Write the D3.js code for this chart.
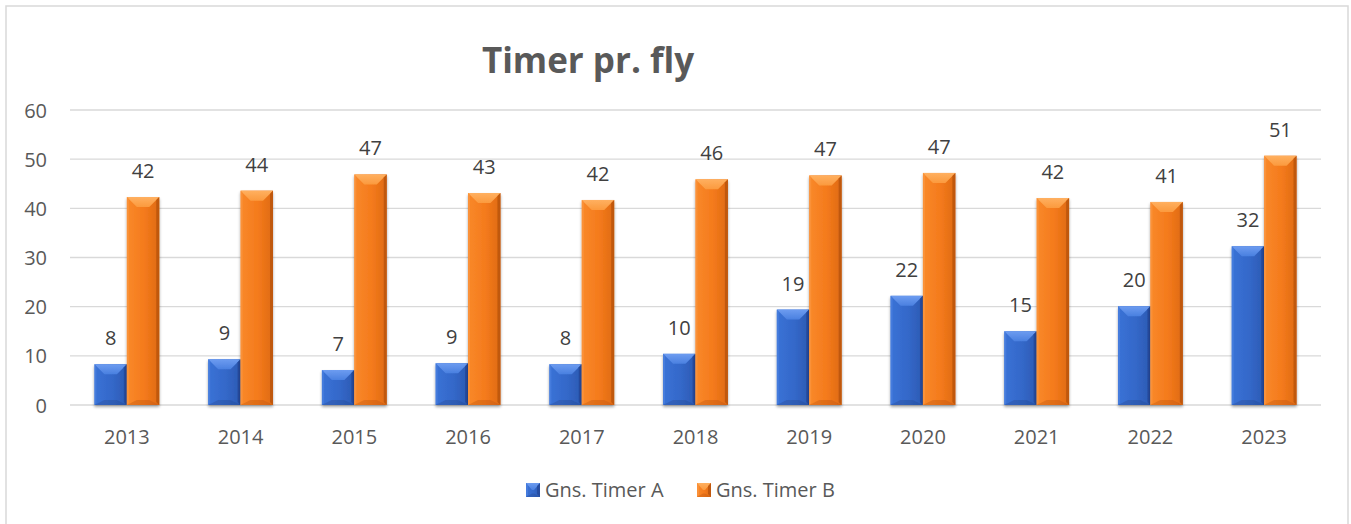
<!DOCTYPE html>
<html>
<head>
<meta charset="utf-8">
<script src="https://cdn.jsdelivr.net/npm/d3@7"></script>
<style>
  body { margin: 0; background: #fff; }
  svg { display: block; }
  text { font-family: "Open Sans", "Noto Sans", sans-serif; fill: #595959; }
</style>
</head>
<body>
<div id="chart"></div>
<script>
// chart data
var years = ['2013', '2014', '2015', '2016', '2017', '2018', '2019', '2020', '2021', '2022', '2023'];
var timerA = [8.3, 9.3, 7.1, 8.5, 8.3, 10.4, 19.4, 22.2, 15.0, 20.1, 32.3];
var timerB = [42.3, 43.6, 46.9, 43.1, 41.7, 45.9, 46.7, 47.2, 42.1, 41.3, 50.7];
var seriesNames = ['Gns. Timer A', 'Gns. Timer B'];
var yTicks = [0, 10, 20, 30, 40, 50, 60];

var width = 1351, height = 524;
var plotLeft = 70, plotRight = 1321, plotTop = 110, plotBottom = 405;

var svg = d3.select('#chart').append('svg')
    .attr('width', width)
    .attr('height', height);

var defs = svg.append('defs');

// gradients for bevelled bars
var palettes = [
    {id: 'a', body: ['#3a72d6', '#3468c9', '#2c5ab3'], top: ['#6d9cf0', '#4a80e0'], bottom: '#24498f', edgeR: '#24489a', edgeL: '#4a80e0'},
    {id: 'b', body: ['#f9892a', '#f47a1c', '#de6a12'], top: ['#ffb060', '#fb9a3e'], bottom: '#b9540e', edgeR: '#b8540e', edgeL: '#fb9640'}
];
palettes.forEach(function(p){
    var g = defs.append('linearGradient').attr('id', 'body-' + p.id)
        .attr('x1', 0).attr('x2', 1).attr('y1', 0).attr('y2', 0);
    g.append('stop').attr('offset', '0%').attr('stop-color', p.body[0]);
    g.append('stop').attr('offset', '55%').attr('stop-color', p.body[1]);
    g.append('stop').attr('offset', '100%').attr('stop-color', p.body[2]);
    var t = defs.append('linearGradient').attr('id', 'top-' + p.id)
        .attr('x1', 0).attr('x2', 0).attr('y1', 0).attr('y2', 1);
    t.append('stop').attr('offset', '0%').attr('stop-color', p.top[0]);
    t.append('stop').attr('offset', '100%').attr('stop-color', p.top[1]);
});

var shadow = defs.append('filter').attr('id', 'shadow')
    .attr('x', '-20%').attr('y', '-20%').attr('width', '140%').attr('height', '140%');
shadow.append('feGaussianBlur').attr('in', 'SourceAlpha').attr('stdDeviation', 1.5);
shadow.append('feOffset').attr('dx', 0).attr('dy', 1.5).attr('result', 'blur');
shadow.append('feComponentTransfer').append('feFuncA').attr('type', 'linear').attr('slope', 0.35);
var merge = shadow.append('feMerge');
merge.append('feMergeNode');
merge.append('feMergeNode').attr('in', 'SourceGraphic');

// outer border
svg.append('rect')
    .attr('x', 6).attr('y', 6)
    .attr('width', 1342).attr('height', 520)
    .attr('fill', 'none')
    .attr('stroke', '#d9d9d9')
    .attr('stroke-width', 1.5);

// title
svg.append('text')
    .attr('x', 588).attr('y', 73)
    .attr('text-anchor', 'middle')
    .style('font-size', '35px')
    .style('font-weight', 'bold')
    .text('Timer pr. fly');

var x0 = d3.scaleBand().domain(years).range([plotLeft, plotRight]).paddingInner(0.43).paddingOuter(0.215);
var x1 = d3.scaleBand().domain([0, 1]).range([0, x0.bandwidth()]);
var y = d3.scaleLinear().domain([0, 60]).range([plotBottom, plotTop]);

// gridlines
svg.append('g').selectAll('line')
    .data(yTicks)
    .enter().append('line')
    .attr('x1', plotLeft).attr('x2', plotRight)
    .attr('y1', function(d){ return y(d); })
    .attr('y2', function(d){ return y(d); })
    .attr('stroke', '#d9d9d9')
    .attr('stroke-width', 1.3);

// y axis labels
var yAxis = d3.axisLeft(y).tickValues(yTicks).tickSize(0).tickPadding(0);
var yg = svg.append('g').attr('transform', 'translate(47,0)').call(yAxis);
yg.select('.domain').remove();
yg.selectAll('text').style('font-size', '20px').attr('fill', '#595959').attr('font-family', null).attr('dy', '0.35em');

// x axis labels
var xAxis = d3.axisBottom(x0).tickSize(0).tickPadding(0);
var xg = svg.append('g').attr('transform', 'translate(0,' + (plotBottom + 32) + ')').call(xAxis);
xg.select('.domain').remove();
xg.selectAll('text').style('font-size', '20px').attr('fill', '#595959').attr('font-family', null).attr('dy', '0.35em');

// bars
function bevelBar(g, x, yTop, w, h, p) {
    var bw = Math.min(10, w / 2 - 1), bh = Math.min(10, h / 2);
    var yb = yTop + h;
    g.append('rect').attr('x', x).attr('y', yTop).attr('width', w).attr('height', h)
        .attr('fill', 'url(#body-' + p.id + ')');
    g.append('polygon')
        .attr('points', [[x, yTop], [x + w, yTop], [x + w - bw, yTop + bh], [x + bw, yTop + bh]].join(' '))
        .attr('fill', 'url(#top-' + p.id + ')');
    g.append('polygon')
        .attr('points', [[x + w, yTop], [x + w, yb], [x + w - 3, yb - 3], [x + w - 3, yTop + 3]].join(' '))
        .attr('fill', p.edgeR).attr('opacity', 0.8);
    g.append('polygon')
        .attr('points', [[x, yTop], [x + 2, yTop + 2], [x + 2, yb - 2], [x, yb]].join(' '))
        .attr('fill', p.edgeL).attr('opacity', 0.7);
    g.append('polygon')
        .attr('points', [[x, yb], [x + w, yb], [x + w - bw, yb - bh / 2], [x + bw, yb - bh / 2]].join(' '))
        .attr('fill', p.bottom).attr('opacity', 0.35);
}

var series = [timerA, timerB];
series.forEach(function(vals, si){
    var p = palettes[si];
    var sg = svg.append('g').attr('class', 'series-' + p.id);
    years.forEach(function(yr, i){
        var bx = x0(yr) + x1(si);
        var g = sg.append('g').attr('filter', 'url(#shadow)');
        bevelBar(g, bx, y(vals[i]), x1.bandwidth(), plotBottom - y(vals[i]), p);
    });
    sg.selectAll('text.lbl')
        .data(vals)
        .enter().append('text')
        .attr('class', 'lbl')
        .attr('x', function(d, i){ return x0(years[i]) + x1(si) + x1.bandwidth() / 2; })
        .attr('y', function(d){ return y(d) - 19; })
        .attr('text-anchor', 'middle')
        .style('font-size', '20px')
        .style('fill', '#404040')
        .text(function(d){ return Math.round(d); });
});

// legend
var legend = svg.append('g').attr('transform', 'translate(526,483)');
var legendX = [0, 171];
seriesNames.forEach(function(name, i){
    var lg = legend.append('g').attr('transform', 'translate(' + legendX[i] + ',0)');
    bevelBar(lg, 0, 0, 14, 14, palettes[i]);
    lg.append('text')
        .attr('x', 19).attr('y', 7)
        .attr('dy', '0.35em')
        .style('font-size', '20px')
        .text(name);
});
</script>
</body>
</html>
